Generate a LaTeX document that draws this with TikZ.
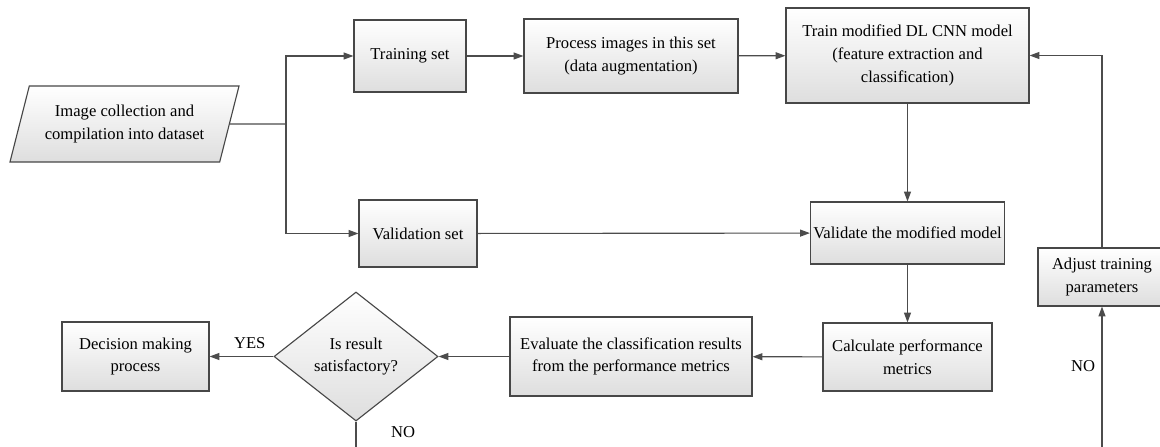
\documentclass[tikz,border=0pt]{standalone}
\usepackage{fontspec}
\setmainfont{Liberation Serif}
\usepackage{tikz}
\usetikzlibrary{arrows.meta,shapes.geometric}

\begin{document}
\begin{tikzpicture}[x=0.025cm,y=-0.025cm,
				font=\fontsize{11.8}{16.2}\selectfont,
				blk/.style={draw=black!72,line width=0.8pt,top color=white,
					bottom color=black!13,align=center,inner sep=2pt},
				dec/.style={blk,diamond,aspect=1.27},
				dat/.style={blk,trapezium,trapezium left angle=66,
					trapezium right angle=114,trapezium stretches body},
				ln/.style={draw=black!70,line width=0.8pt},
				arr/.style={ln,-{Triangle[length=7pt,width=5pt]}},
				lbl/.style={font=\fontsize{11.8}{14}\selectfont,inner sep=1pt}]

				\useasboundingbox (0,0) rectangle (1160,447);

				%%%%%%%%%%%%%%%%  top row  %%%%%%%%%%%%%%%%
				\node[dat,minimum height=1.9cm,minimum width=5.725cm] (data) at (124.5,124)
					{Image collection and\\compilation into dataset};
				\node[blk,minimum width=2.8cm,minimum height=1.8cm] (trainset) at (410,56)
					{Training set};
				\node[blk,minimum width=5.35cm,minimum height=1.85cm] (process) at (631,56)
					{Process images in this set\\(data augmentation)};
				\node[blk,minimum width=6.075cm,minimum height=2.375cm] (trainmod) at (907.5,55.5)
					{Train modified DL CNN model\\(feature extraction and\\classification)};

				%%%%%%%%%%%%%%%%  middle row  %%%%%%%%%%%%%%%%
				\node[blk,minimum width=2.95cm,minimum height=1.675cm] (valset) at (418,233.5)
					{Validation set};
				\node[blk,minimum width=4.775cm,minimum height=1.55cm] (validate) at (907.5,233)
					{Validate the modified model};
				\node[blk,minimum width=3.2cm,minimum height=1.45cm] (adjust) at (1102,277)
					{Adjust training\\parameters};

				%%%%%%%%%%%%%%%%  bottom row  %%%%%%%%%%%%%%%%
				\node[blk,minimum width=4.225cm,minimum height=1.7cm] (calc) at (907.5,357)
					{Calculate performance\\metrics};
				\node[blk,minimum width=6.05cm,minimum height=1.975cm] (evaluate) at (631,356.5)
					{Evaluate the classification results\\from the performance metrics};
				\node[dec,minimum width=4.1cm,minimum height=3.225cm] (check) at (356,356.5)
					{Is result\\satisfactory?};
				\node[blk,minimum width=3.675cm,minimum height=1.725cm] (decide) at (135.5,356.5)
					{Decision making\\process};

				% split point and the loose ends at the lower edge
				\coordinate (split) at (286,124);
				\coordinate (noout) at (356,447);
				\coordinate (noin) at (1102,447);

				% connectors
				\draw[ln] (data.east) -- (split);
				\draw[arr] (split) |- (trainset);
				\draw[arr] (split) |- (valset);
				\draw[arr] (trainset) -- (process);
				\draw[arr] (process) -- (trainmod);
				\draw[arr] (trainmod) -- (validate);
				\draw[arr] (valset) -- (validate);
				\draw[arr] (validate) -- (calc);
				\draw[arr] (calc) -- (evaluate);
				\draw[arr] (evaluate) -- (check);
				\draw[arr] (check) -- node[lbl,above=4pt,pos=0.37] (yes) {YES} (decide);
				\draw[ln] (check.south) -- (noout);
				\draw[arr] (noin) -- (adjust);
				\draw[arr] (adjust) |- (trainmod);
				\node[lbl] (nobot) at (403,432) {NO};
				\node[lbl] (noright) at (1083,366) {NO};
			\end{tikzpicture}
\end{document}
